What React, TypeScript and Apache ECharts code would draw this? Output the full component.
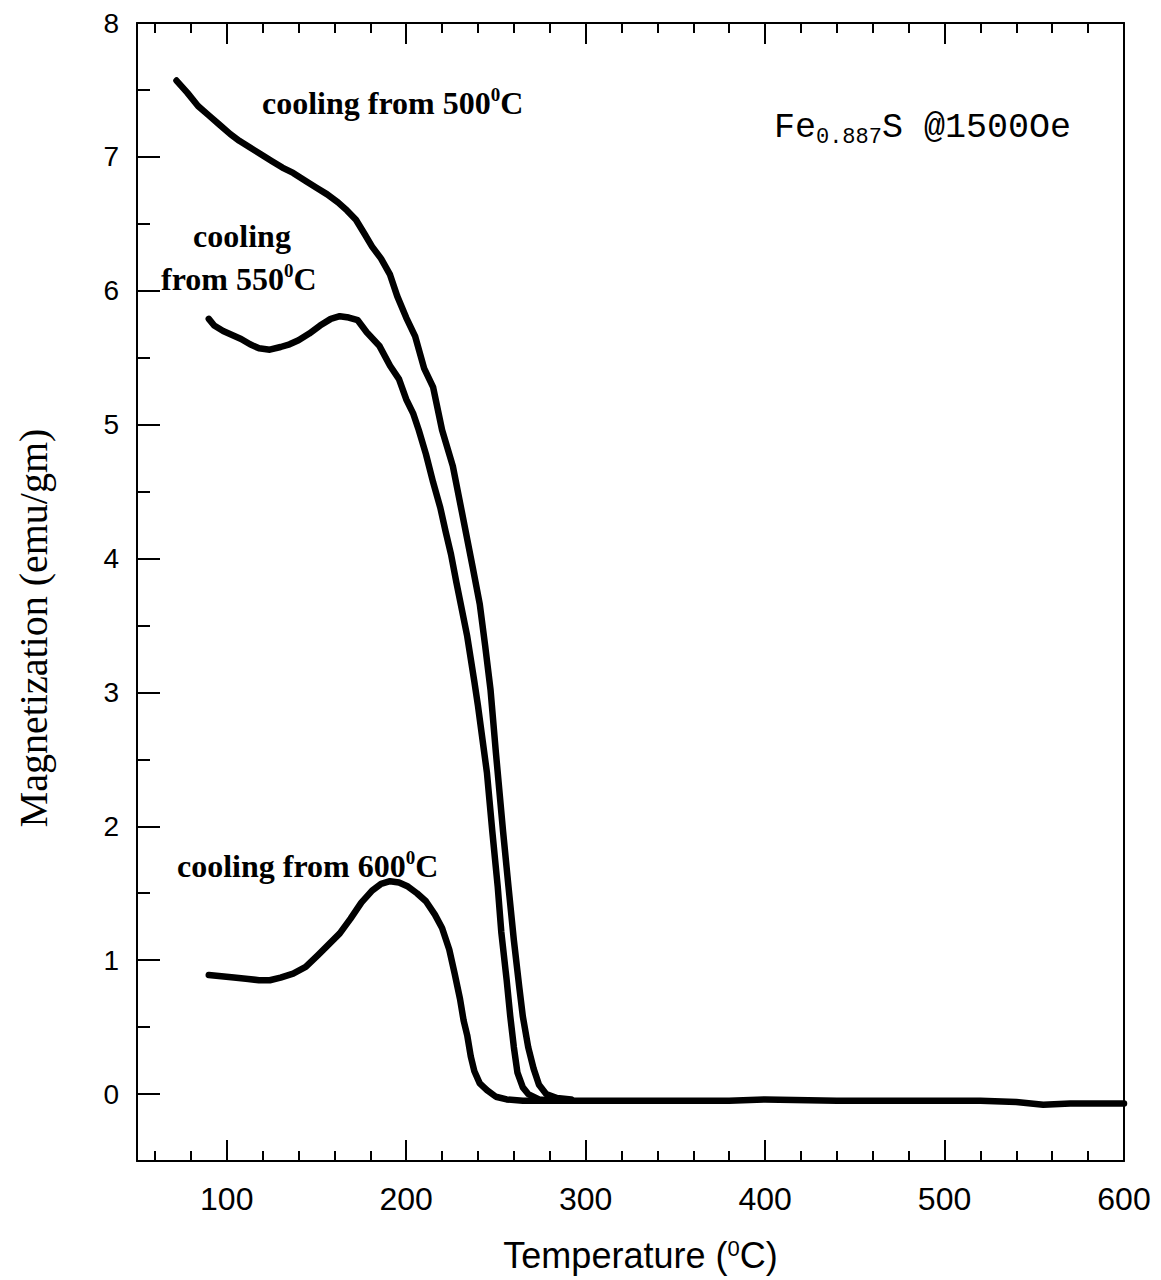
import React, { useEffect, useRef } from "react";
import * as echarts from "echarts";

// ---- Data (Temperature °C, Magnetization emu/gm) ----
const curve500: [number, number][] = [
  [72, 7.57], [78, 7.48], [84, 7.38], [90, 7.31], [96, 7.24], [102, 7.17], [107, 7.12],
  [113, 7.07], [119, 7.02], [125, 6.97], [131, 6.92], [137, 6.88], [144, 6.82], [150, 6.77],
  [156, 6.72], [162, 6.66], [167, 6.6], [172, 6.53], [177, 6.42], [181, 6.33], [186, 6.24],
  [191, 6.12], [195, 5.96], [200, 5.8], [205, 5.66], [210, 5.42], [215, 5.28], [220, 4.96],
  [226, 4.69], [231, 4.35], [237, 3.94], [241, 3.66], [244, 3.35], [247, 3.02], [250, 2.55],
  [254, 1.96], [257, 1.55], [260, 1.15], [263, 0.8], [265, 0.58], [268, 0.35], [271, 0.19],
  [274, 0.07], [278, 0.0], [284, -0.03], [292, -0.04],
];

const curve550: [number, number][] = [
  [90, 5.79], [93, 5.74], [98, 5.7], [103, 5.67], [108, 5.64], [113, 5.6], [118, 5.57],
  [124, 5.56], [130, 5.58], [135, 5.6], [140, 5.63], [146, 5.68], [152, 5.74], [158, 5.79],
  [163, 5.81], [168, 5.8], [173, 5.78], [178, 5.69], [185, 5.59], [191, 5.44], [196, 5.34],
  [200, 5.19], [204, 5.08], [207, 4.96], [211, 4.78], [215, 4.57], [219, 4.38], [222, 4.2],
  [225, 4.03], [228, 3.82], [231, 3.62], [234, 3.42], [238, 3.08], [240, 2.9], [243, 2.6],
  [245, 2.4], [248, 1.96], [251, 1.55], [253, 1.21], [256, 0.85], [258, 0.58], [260, 0.35],
  [262, 0.16], [265, 0.05], [268, 0.0], [274, -0.04], [282, -0.05],
];

const curve600: [number, number][] = [
  [90, 0.89], [97, 0.88], [104, 0.87], [112, 0.86], [118, 0.85], [124, 0.85], [130, 0.87],
  [137, 0.9], [144, 0.95], [151, 1.04], [157, 1.12], [163, 1.2], [169, 1.31], [175, 1.43],
  [181, 1.52], [186, 1.57], [191, 1.59], [196, 1.58], [201, 1.55], [206, 1.5], [211, 1.44],
  [216, 1.34], [220, 1.24], [224, 1.08], [227, 0.9], [230, 0.71], [232, 0.55], [234, 0.44],
  [236, 0.28], [238, 0.17], [241, 0.08], [245, 0.03], [250, -0.02], [256, -0.04], [265, -0.05],
  [280, -0.05], [300, -0.05], [340, -0.05], [380, -0.05], [400, -0.04], [440, -0.05],
  [480, -0.05], [520, -0.05], [540, -0.06], [555, -0.08], [570, -0.07], [600, -0.07],
];

const xMajorTicks = [100, 200, 300, 400, 500, 600];
const xMinorTicks = [60, 80, 120, 140, 160, 180, 220, 240, 260, 280, 320, 340, 360, 380,
  420, 440, 460, 480, 520, 540, 560, 580];
const yMajorTicks = [0, 1, 2, 3, 4, 5, 6, 7, 8];
const yMinorTicks = [-0.5, 0.5, 1.5, 2.5, 3.5, 4.5, 5.5, 6.5, 7.5];

const X_MIN = 50, X_MAX = 600, Y_MIN = -0.5, Y_MAX = 8;

export default function App() {
  const ref = useRef<HTMLDivElement>(null);

  useEffect(() => {
    if (!ref.current) return;
    const chart = echarts.init(ref.current, null, { renderer: "svg" });
    const black = "#000";
    const sans = "Liberation Sans";
    const serif = "Liberation Serif";

    const baseX = {
      type: "value" as const, min: X_MIN, max: X_MAX, splitLine: { show: false },
    };
    const baseY = {
      type: "value" as const, min: Y_MIN, max: Y_MAX, splitLine: { show: false },
    };

    const labelRich = {
      m: { fontFamily: serif, fontWeight: "bold", fontSize: 32, lineHeight: 36, color: black },
      s: { fontFamily: serif, fontWeight: "bold", fontSize: 19, lineHeight: 12, verticalAlign: "top", color: black },
    };

    const option: any = {
      animation: false,
      backgroundColor: "#fff",
      grid: { left: 137, right: 37, top: 23, bottom: 119, outerBoundsMode: "none", containLabel: false },
      xAxis: [
        {
          ...baseX, position: "bottom",
          axisLine: { show: true, onZero: false, lineStyle: { color: black, width: 2 } },
          axisTick: { show: true, inside: true, length: 21, customValues: xMajorTicks, lineStyle: { color: black, width: 2 } },
          axisLabel: { customValues: xMajorTicks, color: black, fontFamily: sans, fontSize: 32, margin: 22 },
          name: "Temperature ({s|0}C)",
          nameLocation: "middle",
          nameGap: 76,
          nameTextStyle: {
            color: black, fontFamily: sans, fontSize: 36, padding: [0, 0, 0, 20],
            rich: { s: { fontFamily: sans, fontSize: 22, lineHeight: 14, verticalAlign: "top", color: black } },
          },
        },
        {
          ...baseX, position: "bottom",
          axisLine: { show: false, onZero: false },
          axisTick: { show: true, inside: true, length: 10, customValues: xMinorTicks, lineStyle: { color: black, width: 2 } },
          axisLabel: { show: false },
        },
        {
          ...baseX, position: "top",
          axisLine: { show: true, onZero: false, lineStyle: { color: black, width: 2 } },
          axisTick: { show: true, inside: true, length: 21, customValues: xMajorTicks, lineStyle: { color: black, width: 2 } },
          axisLabel: { show: false },
        },
        {
          ...baseX, position: "top",
          axisLine: { show: false, onZero: false },
          axisTick: { show: true, inside: true, length: 10, customValues: xMinorTicks, lineStyle: { color: black, width: 2 } },
          axisLabel: { show: false },
        },
      ],
      yAxis: [
        {
          ...baseY, position: "left",
          axisLine: { show: true, onZero: false, lineStyle: { color: black, width: 2 } },
          axisTick: { show: true, inside: true, length: 23, customValues: yMajorTicks, lineStyle: { color: black, width: 2 } },
          axisLabel: { customValues: yMajorTicks, color: black, fontFamily: sans, fontSize: 28, margin: 18 },
        },
        {
          ...baseY, position: "left",
          axisLine: { show: false, onZero: false },
          axisTick: { show: true, inside: true, length: 13, customValues: yMinorTicks, lineStyle: { color: black, width: 2 } },
          axisLabel: { show: false },
        },
        {
          ...baseY, position: "right",
          axisLine: { show: true, onZero: false, lineStyle: { color: black, width: 2 } },
          axisTick: { show: false },
          axisLabel: { show: false },
        },
      ],
      series: [
        { name: "cooling from 500°C", data: curve500 },
        { name: "cooling from 550°C", data: curve550 },
        { name: "cooling from 600°C", data: curve600 },
      ].map((s) => ({
        ...s,
        type: "line",
        xAxisIndex: 0,
        yAxisIndex: 0,
        showSymbol: false,
        symbol: "none",
        smooth: false,
        lineStyle: { color: black, width: 6.5, join: "round", cap: "round" },
      })),
      graphic: [
        {
          type: "text", x: 33, y: 628, rotation: Math.PI / 2,
          style: {
            text: "Magnetization (emu/gm)", fontFamily: serif, fontSize: 40, fill: black,
            align: "center", verticalAlign: "middle",
          },
        },
        {
          type: "text", x: 262, y: 103,
          style: { text: "{m|cooling from 500}{s|0}{m|C}", rich: labelRich, align: "left", verticalAlign: "middle" },
        },
        {
          type: "text", x: 242, y: 236,
          style: { text: "{m|cooling}", rich: labelRich, align: "center", verticalAlign: "middle" },
        },
        {
          type: "text", x: 161, y: 279,
          style: { text: "{m|from 550}{s|0}{m|C}", rich: labelRich, align: "left", verticalAlign: "middle" },
        },
        {
          type: "text", x: 177, y: 866,
          style: { text: "{m|cooling from 600}{s|0}{m|C}", rich: labelRich, align: "left", verticalAlign: "middle" },
        },
        {
          type: "text", x: 1071, y: 128,
          style: {
            text: "{n|Fe}{b|0.887}{n|S @1500Oe}",
            align: "right", verticalAlign: "middle",
            rich: {
              n: { fontFamily: "Liberation Mono", fontSize: 35, lineHeight: 40, color: black },
              b: { fontFamily: "Liberation Mono", fontSize: 22, lineHeight: 22, verticalAlign: "bottom", color: black },
            },
          },
        },
      ],
    };

    chart.setOption(option);
    return () => chart.dispose();
  }, []);

  return (
    <div
      ref={ref}
      style={{ position: "absolute", left: 0, top: 0, width: 1161, height: 1280, background: "#fff" }}
    />
  );
}
